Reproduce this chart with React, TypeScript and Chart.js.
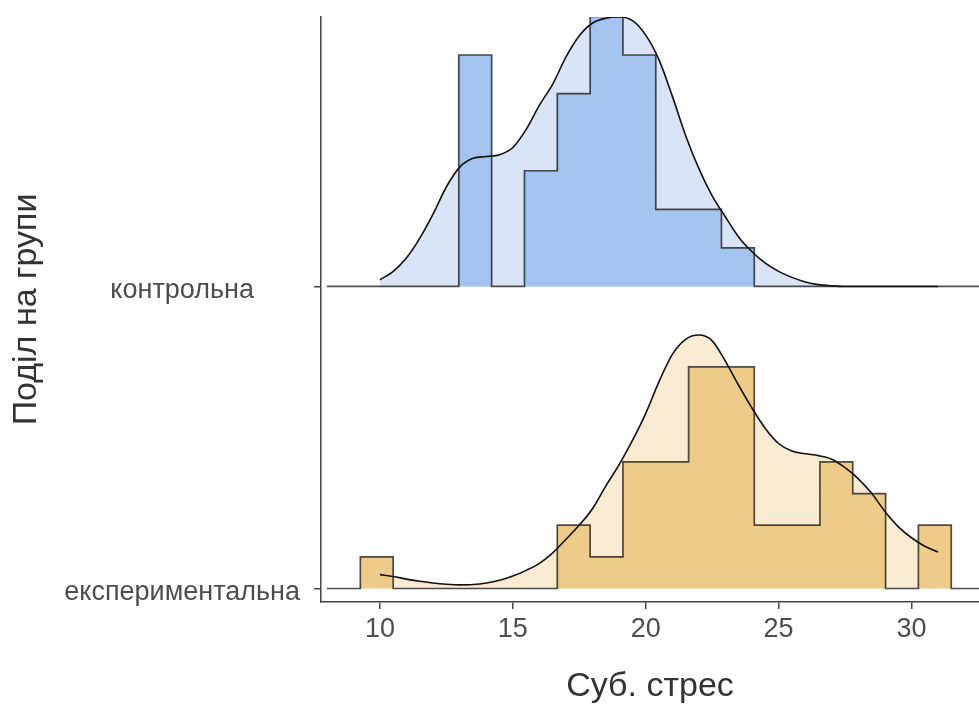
import { useEffect, useRef } from "react";
import { Chart, registerables } from "chart.js";

Chart.register(...registerables);

// ---- data ----
const GROUPS = ["експериментальна", "контрольна"]; // ridge baselines at y = 0 and y = 1
const X_TICKS = [10, 15, 20, 25, 30];
const X_TITLE = "Суб. стрес";
const Y_TITLE = "Поділ на групи";

// histogram bins (18 bins)
const BIN_START = 9.26;
const BIN_WIDTH = 1.2353;
const CONTROL_COUNTS = [0, 0, 0, 6, 0, 3, 5, 7, 6, 2, 2, 1, 0, 0, 0, 0, 0, 0];
const EXPERIMENTAL_COUNTS = [1, 0, 0, 0, 0, 0, 2, 1, 4, 4, 7, 7, 2, 2, 4, 3, 0, 2];

// density curves (scaled ridge heights)
const DENS_X = [
  10, 10.5, 11, 11.5, 12, 12.5, 13, 13.5, 14, 14.5, 15, 15.5, 16, 16.5, 17, 17.5, 18, 18.5,
  19, 19.5, 20, 20.5, 21, 21.5, 22, 22.5, 23, 23.5, 24, 24.5, 25, 25.5, 26, 26.5, 27, 27.5,
  28, 28.5, 29, 29.5, 30, 30.5, 31,
];
const CONTROL_DENS = [
  0.022, 0.05, 0.095, 0.16, 0.24, 0.33, 0.395, 0.424, 0.43, 0.436, 0.46, 0.52, 0.6, 0.67,
  0.76, 0.83, 0.872, 0.888, 0.892, 0.88, 0.832, 0.75, 0.63, 0.5, 0.39, 0.3, 0.23, 0.163,
  0.115, 0.077, 0.05, 0.03, 0.015, 0.006, 0.002, 0, 0, 0, 0, 0, 0, 0, 0,
];
const EXPERIMENTAL_DENS = [
  0.046, 0.04, 0.031, 0.024, 0.018, 0.014, 0.012, 0.013, 0.018, 0.027, 0.041, 0.06, 0.083,
  0.118, 0.163, 0.21, 0.265, 0.34, 0.41, 0.49, 0.58, 0.685, 0.775, 0.825, 0.839, 0.82,
  0.752, 0.672, 0.597, 0.53, 0.48, 0.455, 0.446, 0.44, 0.428, 0.4, 0.363, 0.315, 0.255,
  0.205, 0.168, 0.14, 0.121,
];

// ---- style ----
const FONT = "'Liberation Sans', Arial, sans-serif";
const X_MIN = 7.78;
const X_MAX = 32.54;
const Y_MIN = -0.0447;
const Y_MAX = 1.892;
const HIST_SCALE = 4.086;
const HIST_LINE_FROM = 8.0;
const HIST_LINE_TO = 33.5;

const BLUE_HIST = "#a5c3ef";
const BLUE_DENS = "#dae4f7";
const ORANGE_HIST = "#efcb8a";
const ORANGE_DENS = "#f9ead2";
const AXIS = "#444444";

export default function App() {
  const ref = useRef<HTMLCanvasElement | null>(null);

  useEffect(() => {
    if (!ref.current) return;

    const densPts = (vals: number[], base: number) =>
      DENS_X.map((x, i) => ({ x, y: base + vals[i] }));

    const histPts = (counts: number[], base: number) => {
      const n = counts.reduce((a, b) => a + b, 0);
      const pts: { x: number; y: number }[] = [{ x: HIST_LINE_FROM, y: base }];
      counts.forEach((c, i) => pts.push({ x: BIN_START + i * BIN_WIDTH, y: base + (c / n) * HIST_SCALE }));
      pts.push({ x: BIN_START + counts.length * BIN_WIDTH, y: base });
      pts.push({ x: HIST_LINE_TO, y: base });
      return pts;
    };

    const densLine = (vals: number[], base: number) => ({
      data: densPts(vals, base),
      borderColor: "#111111",
      borderWidth: 1.6,
      fill: false,
      pointRadius: 0,
      cubicInterpolationMode: "monotone" as const,
      tension: 0.4,
    });
    const densFill = (vals: number[], base: number, color: string) => ({
      data: densPts(vals, base),
      borderWidth: 0,
      borderColor: "rgba(0,0,0,0)",
      backgroundColor: color,
      fill: { value: base },
      pointRadius: 0,
      cubicInterpolationMode: "monotone" as const,
      tension: 0.4,
    });
    const hist = (counts: number[], base: number, color: string) => ({
      data: histPts(counts, base),
      stepped: "before" as const,
      borderColor: "rgba(20,20,20,0.75)",
      borderWidth: 1.7,
      backgroundColor: color,
      fill: { value: base },
      pointRadius: 0,
    });

    const chart = new Chart(ref.current, {
      type: "line",
      data: {
        datasets: [
          densLine(CONTROL_DENS, 1),
          hist(CONTROL_COUNTS, 1, BLUE_HIST),
          densFill(CONTROL_DENS, 1, BLUE_DENS),
          densLine(EXPERIMENTAL_DENS, 0),
          hist(EXPERIMENTAL_COUNTS, 0, ORANGE_HIST),
          densFill(EXPERIMENTAL_DENS, 0, ORANGE_DENS),
        ] as any,
      },
      options: {
        responsive: false,
        animation: false,
        events: [],
        layout: { padding: { top: 17, left: 0, right: 0, bottom: 0 } },
        plugins: { legend: { display: false }, tooltip: { enabled: false } },
        scales: {
          x: {
            type: "linear",
            min: X_MIN,
            max: X_MAX,
            afterBuildTicks: (s: any) => {
              s.ticks = X_TICKS.map((v) => ({ value: v }));
            },
            afterFit: (s: any) => {
              s.height = 102;
              s.paddingLeft = 0;
              s.paddingRight = 0;
            },
            ticks: {
              font: { family: FONT, size: 27 },
              color: "#4d4d4d",
              padding: 4,
              maxRotation: 0,
              autoSkip: false,
            },
            grid: { drawOnChartArea: false, drawTicks: true, tickLength: 7, color: AXIS, lineWidth: 1.5 },
            border: { display: true, color: AXIS, width: 1.5 },
            title: {
              display: true,
              text: X_TITLE,
              font: { family: FONT, size: 34, lineHeight: 1 },
              color: "#333333",
              padding: { top: 0, bottom: 0 },
            },
          },
          y: {
            type: "linear",
            min: Y_MIN,
            max: Y_MAX,
            afterBuildTicks: (s: any) => {
              s.ticks = GROUPS.map((_, i) => ({ value: i }));
            },
            afterFit: (s: any) => {
              s.width = 321;
              s.paddingTop = 0;
              s.paddingBottom = 0;
            },
            ticks: {
              // empty first line nudges the label slightly below the tick, as in the reference
              callback: (v: any) => ["", GROUPS[Number(v)] ?? ""],
              font: { family: FONT, size: 27, lineHeight: 0.3 },
              color: "#4d4d4d",
              crossAlign: "center",
              padding: 14,
            },
            grid: { drawOnChartArea: false, drawTicks: true, tickLength: 7, color: AXIS, lineWidth: 1.5 },
            border: { display: true, color: AXIS, width: 1.5 },
            title: {
              display: true,
              text: Y_TITLE,
              font: { family: FONT, size: 34, lineHeight: 1 },
              color: "#333333",
              padding: { top: 10, bottom: 0 },
            },
          },
        },
      } as any,
    });

    return () => chart.destroy();
  }, []);

  return (
    <div style={{ position: "fixed", left: 0, top: 0, width: 979, height: 704, background: "#ffffff" }}>
      <canvas ref={ref} width={979} height={704} style={{ display: "block" }} />
    </div>
  );
}
